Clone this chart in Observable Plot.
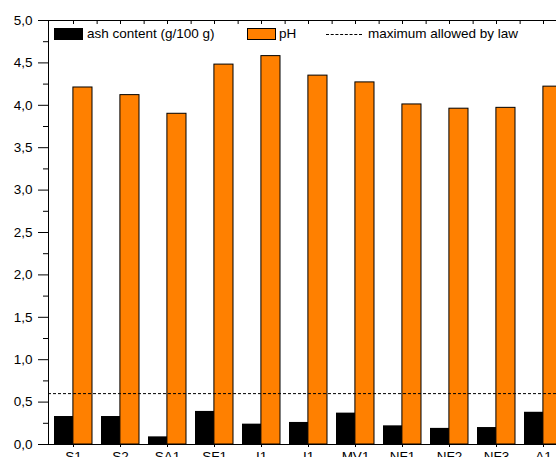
<!DOCTYPE html>
<html>
<head>
<meta charset="utf-8">
<script src="https://cdn.jsdelivr.net/npm/d3@7"></script>
<script src="https://cdn.jsdelivr.net/npm/@observablehq/plot@0.6"></script>
<style>
  html, body { margin: 0; padding: 0; background: #fff; overflow: hidden; }
  #wrap { position: relative; width: 556px; height: 457px; overflow: hidden; background: #fff; }
  #wrap svg { position: absolute; left: 0; top: 0; max-width: none !important; }
  .leg { position: absolute; font-family: "Liberation Sans", Arial, sans-serif; font-size: 13.5px; color: #000; line-height: 1; white-space: nowrap; }
  .sw { position: absolute; box-sizing: border-box; }
</style>
</head>
<body>
<div id="wrap"></div>
<script>
// ---- data ----
const categories = ["S1", "S2", "SA1", "SF1", "I1", "I1", "MV1", "NF1", "NF2", "NF3", "A1"];
const ashContent = [0.33, 0.33, 0.09, 0.39, 0.24, 0.26, 0.37, 0.22, 0.19, 0.20, 0.38];
const pHValues   = [4.21, 4.12, 3.90, 4.48, 4.58, 4.35, 4.27, 4.01, 3.96, 3.97, 4.22];
const maxAllowed = 0.6;
const yMajorTicks = [0, 0.5, 1, 1.5, 2, 2.5, 3, 3.5, 4, 4.5, 5];
const yMinorTicks = [0.25, 0.75, 1.25, 1.75, 2.25, 2.75, 3.25, 3.75, 4.25, 4.75];
const seriesNames = ["ash content (g/100 g)", "pH", "maximum allowed by law"];

// ---- layout ----
const W = 567, H = 470;
const mL = 48, mR = 0, mT = 20, mB = 26;
const n = categories.length;
const padIn = 0.2, padOut = 0.091;
const step = (W - mL - mR) / (n - padIn + 2 * padOut);
const half = step * (1 - padIn) / 2;
const idx = d3.range(n);
const rows = idx.map(i => ({i, ash: ashContent[i], pH: pHValues[i]}));
const fmt = d => d3.format(".1f")(d).replace(".", ",");
const none = () => "";

const chart = Plot.plot({
  width: W, height: H,
  marginLeft: mL, marginRight: mR, marginTop: mT, marginBottom: mB,
  style: {fontFamily: "'Liberation Sans', Arial, sans-serif", fontSize: "13.5px", background: "white", color: "black", maxWidth: "none"},
  x: {type: "band", domain: idx, paddingInner: padIn, paddingOuter: padOut, align: 0.5, label: null},
  y: {domain: [0, 5], label: null},
  marks: [
    Plot.barY(rows, {x: "i", y: "ash", fill: "black", insetLeft: 0, insetRight: half}),
    Plot.barY(rows, {x: "i", y: "pH", fill: "#ff8000", stroke: "black", strokeWidth: 1, insetLeft: half, insetRight: 0}),
    Plot.ruleY([maxAllowed], {stroke: "black", strokeWidth: 1, strokeDasharray: "3,2"}),
    Plot.frame({stroke: "black", strokeWidth: 1}),
    Plot.axisY({ticks: yMajorTicks, tickSize: 10, tickPadding: 6, tickFormat: fmt, label: null, stroke: "black", fill: "black", fontSize: 13.5}),
    Plot.axisY({ticks: yMinorTicks, tickSize: 5, tickFormat: none, label: null, stroke: "black"}),
    Plot.axisX({ticks: idx, tickSize: 3, tickPadding: 4, tickFormat: i => categories[i], label: null, stroke: "black", fill: "black", fontSize: 13.5}),
    Plot.axisX({anchor: "top", ticks: idx, tickSize: -3, tickFormat: none, label: null, stroke: "black"}),
    Plot.axisX({anchor: "top", ticks: idx.slice(0, -1), tickSize: -3, tickFormat: none, label: null, dx: step / 2, stroke: "black"})
  ]
});
const wrap = document.getElementById("wrap");
wrap.appendChild(chart);

// ---- legend (inside plot area, top) ----
function add(html) { wrap.insertAdjacentHTML("beforeend", html); }
add(`<div class="sw" style="left:54px;top:28px;width:29px;height:12px;background:#000"></div>`);
add(`<div class="leg" style="left:87px;top:27px">${seriesNames[0]}</div>`);
add(`<div class="sw" style="left:247px;top:28px;width:29px;height:12px;background:#ff8000;border:1px solid #000"></div>`);
add(`<div class="leg" style="left:279px;top:27px">${seriesNames[1]}</div>`);
add(`<div class="sw" style="left:326px;top:34px;width:36px;height:0;border-top:1px dashed #000"></div>`);
add(`<div class="leg" style="left:368px;top:27px">${seriesNames[2]}</div>`);
</script>
</body>
</html>
